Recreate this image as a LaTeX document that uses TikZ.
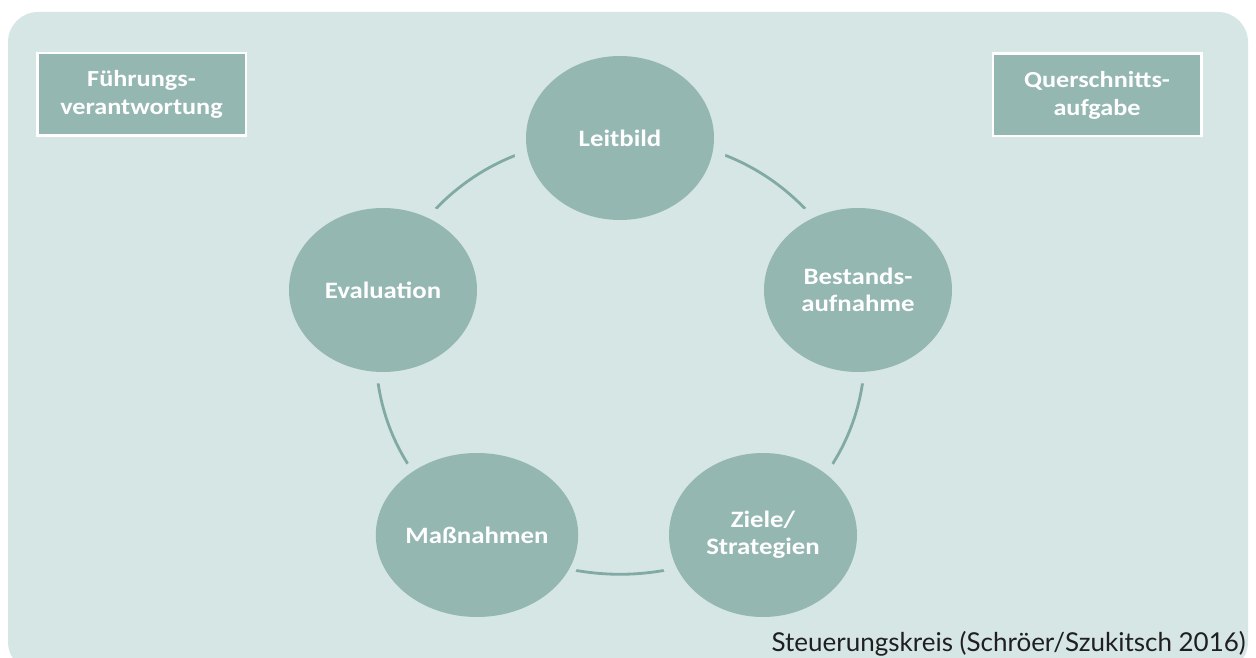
\documentclass[tikz,border=0pt]{standalone}
\usepackage{fontspec}
\newfontfamily\lab[FakeStretch=1.14]{Carlito}
\newfontfamily\capfont{Lato}
\usetikzlibrary{shapes.geometric}
\definecolor{bgc}{RGB}{214,230,229}
\definecolor{nodec}{RGB}{148,183,178}
\definecolor{arcc}{RGB}{130,170,165}
\pgfdeclarelayer{back}
\pgfsetlayers{back,main}
\begin{document}
\begin{tikzpicture}[x=1pt,y=1pt,
  stage/.style={ellipse, fill=nodec, minimum width=188pt, minimum height=164pt,
    inner sep=0pt, text=white, font=\lab\bfseries\fontsize{23.5}{27}\selectfont, align=center},
  side/.style={rectangle, fill=nodec, draw=white, line width=2.5pt,
    minimum width=208.5pt, minimum height=82.5pt, inner sep=0pt, text=white,
    font=\lab\bfseries\fontsize{23}{28}\selectfont, align=center},
  ring/.style={draw=arcc, line width=2.8pt},
  halo/.style={fill=bgc}]
\useasboundingbox (0,0) rectangle (1256,657);
\node[stage] (L) at (620,519) {Leitbild};
\node[stage] (B) at (858,367) {Bestands-\\aufnahme};
\node[stage] (Z) at (763,122) {Ziele/\\Strategien};
\node[stage] (M) at (477,122) {Maßnahmen};
\node[stage] (E) at (383,367) {Evaluation};
\node[side] (F) at (141.5,562.5) {Führungs-\\verantwortung};
\node[side] (Q) at (1097,562) {Querschnitts-\\aufgabe};
\node[anchor=base east, font=\capfont\fontsize{26}{30}\selectfont, text=black!88, inner sep=0pt] (cap) at (1246,6) {Steuerungskreis (Schröer/Szukitsch 2016)};
\begin{pgfonlayer}{back}
\fill[bgc, rounded corners=30pt] (8,-15) rectangle (1248,645);
\draw[ring] (L.center) to[bend left=34] (B.center);
\draw[ring] (B.center) to[bend left=34] (Z.center);
\draw[ring] (Z.center) to[bend left=28] (M.center);
\draw[ring] (M.center) to[bend left=34] (E.center);
\draw[ring] (E.center) to[bend left=34] (L.center);
\foreach \n in {L,B,Z,M,E} \fill[halo] (\n.center) ellipse[x radius=107pt, y radius=93.5pt];
\end{pgfonlayer}
\end{tikzpicture}
\end{document}
